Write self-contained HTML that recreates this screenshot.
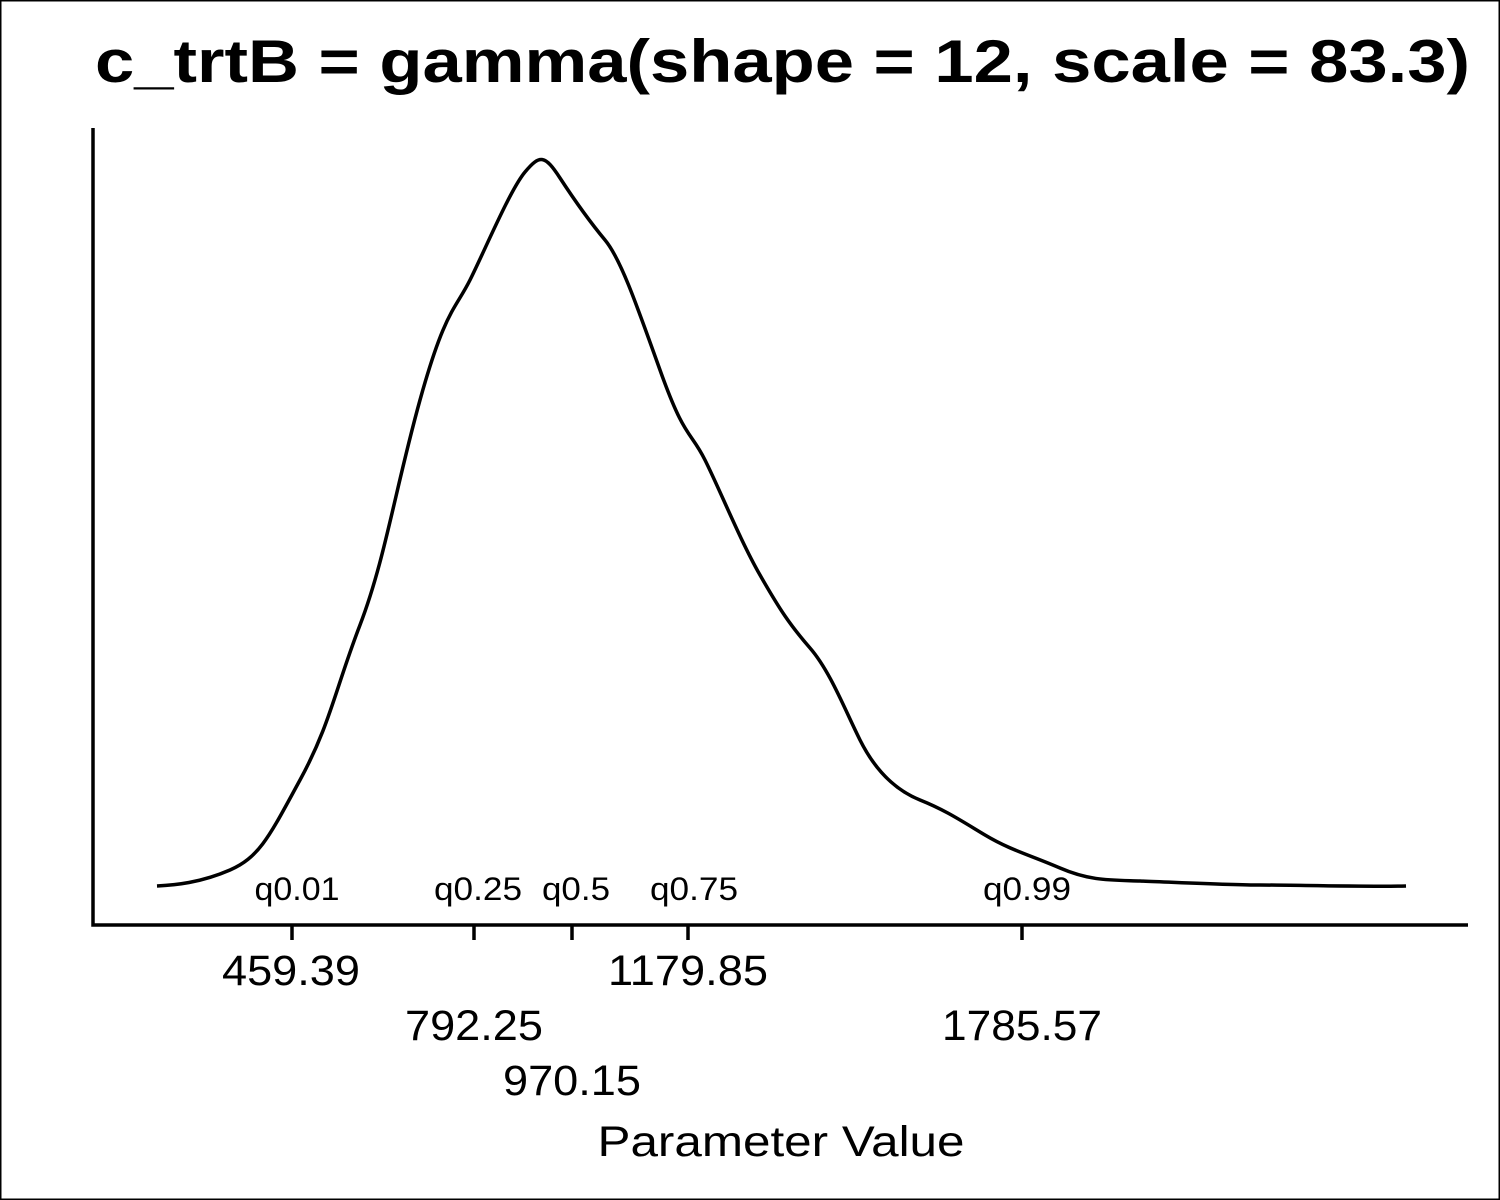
<!DOCTYPE html>
<html><head><style>body{margin:0;background:#fff}svg{display:block}</style></head><body>
<svg width="1500" height="1200" xmlns="http://www.w3.org/2000/svg" font-family="Liberation Sans, sans-serif">
<rect x="0.5" y="0.5" width="1499" height="1199" fill="#fff" stroke="#000" stroke-width="2"/>
<text x="95" y="82" font-size="60" font-weight="bold" textLength="1375" lengthAdjust="spacingAndGlyphs">c_trtB = gamma(shape = 12, scale = 83.3)</text>
<path d="M157,886 C175,885 200,883 230,870 S270,835 300,780 S335,690 360,625 S395,490 420,400 S455,310 470,280 S510,190 525,172 S545,155 560,178 S590,222 605,240 S635,300 660,370 S690,430 705,460 S740,540 760,575 S790,625 810,648 S845,710 860,740 S895,790 920,800 S960,820 985,835 S1030,855 1060,868 S1110,880 1140,881 S1230,885 1260,885 S1370,887 1406,886" fill="none" stroke="#000" stroke-width="3.5"/>
<path d="M93,128 V925 H1468" fill="none" stroke="#000" stroke-width="3.5"/>
<g stroke="#000" stroke-width="3.5"><line x1="292" y1="925" x2="292" y2="940"/><line x1="474" y1="925" x2="474" y2="940"/><line x1="572" y1="925" x2="572" y2="940"/><line x1="688" y1="925" x2="688" y2="940"/><line x1="1022" y1="925" x2="1022" y2="940"/></g>
<g font-size="32" text-anchor="middle"><text x="297" y="900" textLength="85" lengthAdjust="spacingAndGlyphs">q0.01</text><text x="478" y="900" textLength="88" lengthAdjust="spacingAndGlyphs">q0.25</text><text x="576" y="900" textLength="68" lengthAdjust="spacingAndGlyphs">q0.5</text><text x="694" y="900" textLength="88" lengthAdjust="spacingAndGlyphs">q0.75</text><text x="1027" y="900" textLength="88" lengthAdjust="spacingAndGlyphs">q0.99</text></g>
<g font-size="43" text-anchor="middle"><text x="291" y="985" textLength="138" lengthAdjust="spacingAndGlyphs">459.39</text><text x="474" y="1040" textLength="138" lengthAdjust="spacingAndGlyphs">792.25</text><text x="572" y="1095" textLength="138" lengthAdjust="spacingAndGlyphs">970.15</text><text x="688" y="985" textLength="160" lengthAdjust="spacingAndGlyphs">1179.85</text><text x="1022" y="1040" textLength="160" lengthAdjust="spacingAndGlyphs">1785.57</text><text x="781" y="1156" textLength="367" lengthAdjust="spacingAndGlyphs">Parameter Value</text></g>
</svg>
</body></html>
